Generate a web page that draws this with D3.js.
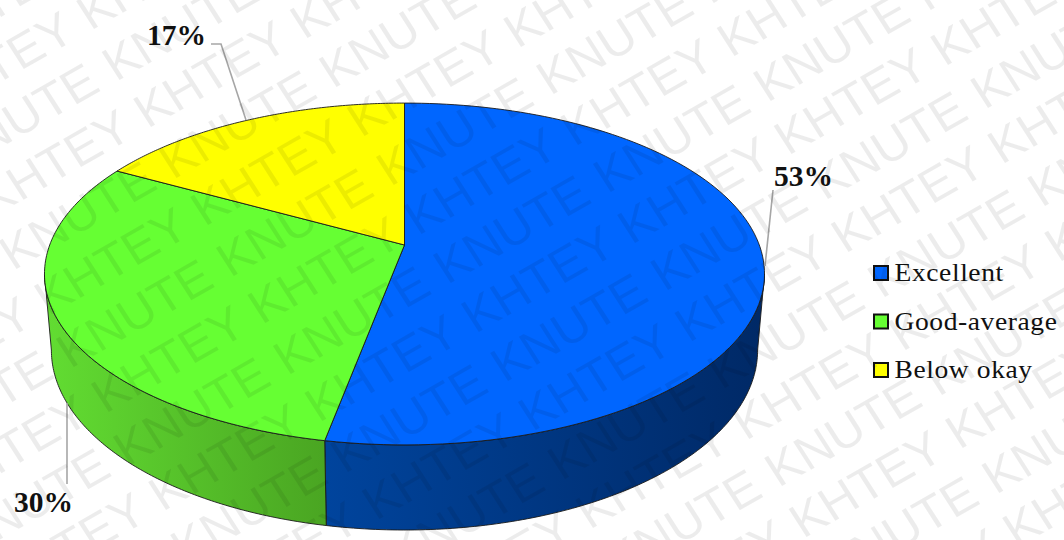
<!DOCTYPE html>
<html>
<head>
<meta charset="utf-8">
<script src="https://cdn.jsdelivr.net/npm/d3@7"></script>
<style>html,body{margin:0;background:#fff}svg{display:block}</style>
</head>
<body>
<svg id="chart" width="1064" height="540"></svg>
<script>
const categories = ["Excellent", "Good-average", "Below okay"];
const shares = [53, 30, 17];
const percentLabels = ["53%", "30%", "17%"];
const topColors = ["#0066ff", "#66ff33", "#ffff00"];
const stampWords = ["KHTEY", "KNUTE"];

const svg = d3.select("#chart");
const defs = svg.append("defs");

// Perspective disc: foreshortening factor shared by the top and bottom rims
const k = 0.1696;
const topRim = {cx: 404.5, cy: 245, a: 354.8, b: 166};
const bottomRim = {cx: 404.5, cy: 319.5, a: 348, b: 174.8};
const project = (rim, t) => {
  const d = 1 + k * Math.cos(t);
  return [rim.cx + rim.a * Math.sin(t) / d, rim.cy - rim.b * Math.cos(t) / d];
};
const arcPoints = (rim, t0, t1) =>
  d3.range(0, 121).map(i => project(rim, t0 + (t1 - t0) * i / 120));
const line = d3.line();

const slices = d3.pie().sort(null).value(d => d)(shares);
const tangent = Math.acos(-k); // where the rim silhouette meets the side wall

// Side wall, only the front part of the disc is visible
const wallRanges = [
  {id: "wallBlue", t0: tangent, t1: slices[0].endAngle, x1: 326, x2: 764, stops: ["#00449d", "#002966"]},
  {id: "wallGreen", t0: slices[0].endAngle, t1: 2 * Math.PI - tangent, x1: 44, x2: 326, stops: ["#62dd32", "#4aa522"]}
];
wallRanges.forEach(w => {
  defs.append("linearGradient").attr("id", w.id).attr("gradientUnits", "userSpaceOnUse")
    .attr("x1", w.x1).attr("x2", w.x2).attr("y1", 0).attr("y2", 0)
    .selectAll("stop").data(w.stops).join("stop")
    .attr("offset", (d, i) => i).attr("stop-color", d => d);
});

svg.append("g").selectAll("path").data(wallRanges).join("path")
  .attr("d", d => line(arcPoints(topRim, d.t0, d.t1).concat(arcPoints(bottomRim, d.t1, d.t0))) + "Z")
  .attr("fill", d => `url(#${d.id})`)
  .attr("stroke", "#1a1a1a").attr("stroke-width", 0.9);

// Top face
svg.append("g").selectAll("path").data(slices).join("path")
  .attr("d", d => line([[topRim.cx, topRim.cy]].concat(arcPoints(topRim, d.startAngle, d.endAngle))) + "Z")
  .attr("fill", (d, i) => topColors[i])
  .attr("stroke", "#1a1a1a").attr("stroke-width", 0.9).attr("stroke-linejoin", "round");

// Leader lines and value labels
const leaders = [
  [[773, 190], [765, 266]],
  [[67, 484], [67, 403]],
  [[211, 44], [221, 44], [246, 120]]
];
svg.append("g").selectAll("path").data(leaders).join("path")
  .attr("d", d => line(d)).attr("fill", "none")
  .attr("stroke", "#a6a6a6").attr("stroke-width", 1.6);

const labelAnchors = [[774, 186], [14, 512], [147, 45]];
svg.append("g").selectAll("text").data(percentLabels).join("text")
  .attr("x", (d, i) => labelAnchors[i][0]).attr("y", (d, i) => labelAnchors[i][1])
  .attr("font-family", "'Liberation Serif'").attr("font-weight", 700).attr("font-size", 29.5)
  .attr("fill", "#111").text(d => d);

// Legend
const legendY = d3.scalePoint().domain(categories).range([273, 370]);
const legend = svg.append("g").selectAll("g").data(categories).join("g")
  .attr("transform", d => `translate(874,${legendY(d)})`);
legend.append("rect").attr("x", 0).attr("y", -7).attr("width", 14).attr("height", 14)
  .attr("fill", (d, i) => topColors[i]).attr("stroke", "#111").attr("stroke-width", 2);
legend.append("text").attr("transform", "translate(20.5,8) scale(1.06,1)")
  .attr("font-family", "'Liberation Serif'").attr("font-size", 26).attr("letter-spacing", 0.55)
  .attr("fill", "#111").text(d => d);

// Diagonal watermark: rows of one word alternate with rows of the other,
// laid out on a sheared lattice of screen-space steps
const wordStep = [[156.4, -89], [160, -91]];
const rowStep = [57.1, 98];
const rowOrigin = [[948, 65], [988, 108]];
const stamps = [];
d3.range(0, 2).forEach(kind => {
  d3.range(-9, 8).forEach(row => {
    d3.range(-12, 8).forEach(n => {
      const x = rowOrigin[kind][0] + row * rowStep[0] + n * wordStep[kind][0];
      const y = rowOrigin[kind][1] + row * rowStep[1] + n * wordStep[kind][1];
      if (x > -170 && x < 1090 && y > -10 && y < 640) stamps.push({word: stampWords[kind], x, y});
    });
  });
});
svg.append("g").attr("pointer-events", "none").selectAll("text").data(stamps).join("text")
  .attr("transform", d => `translate(${d.x},${d.y}) scale(1.06,1) rotate(-31.1)`)
  .attr("font-family", "'Liberation Sans'").attr("font-size", 47.6).attr("dx", -4)
  .attr("fill", "#000").attr("fill-opacity", 0.075).text(d => d.word);
</script>
</body>
</html>
